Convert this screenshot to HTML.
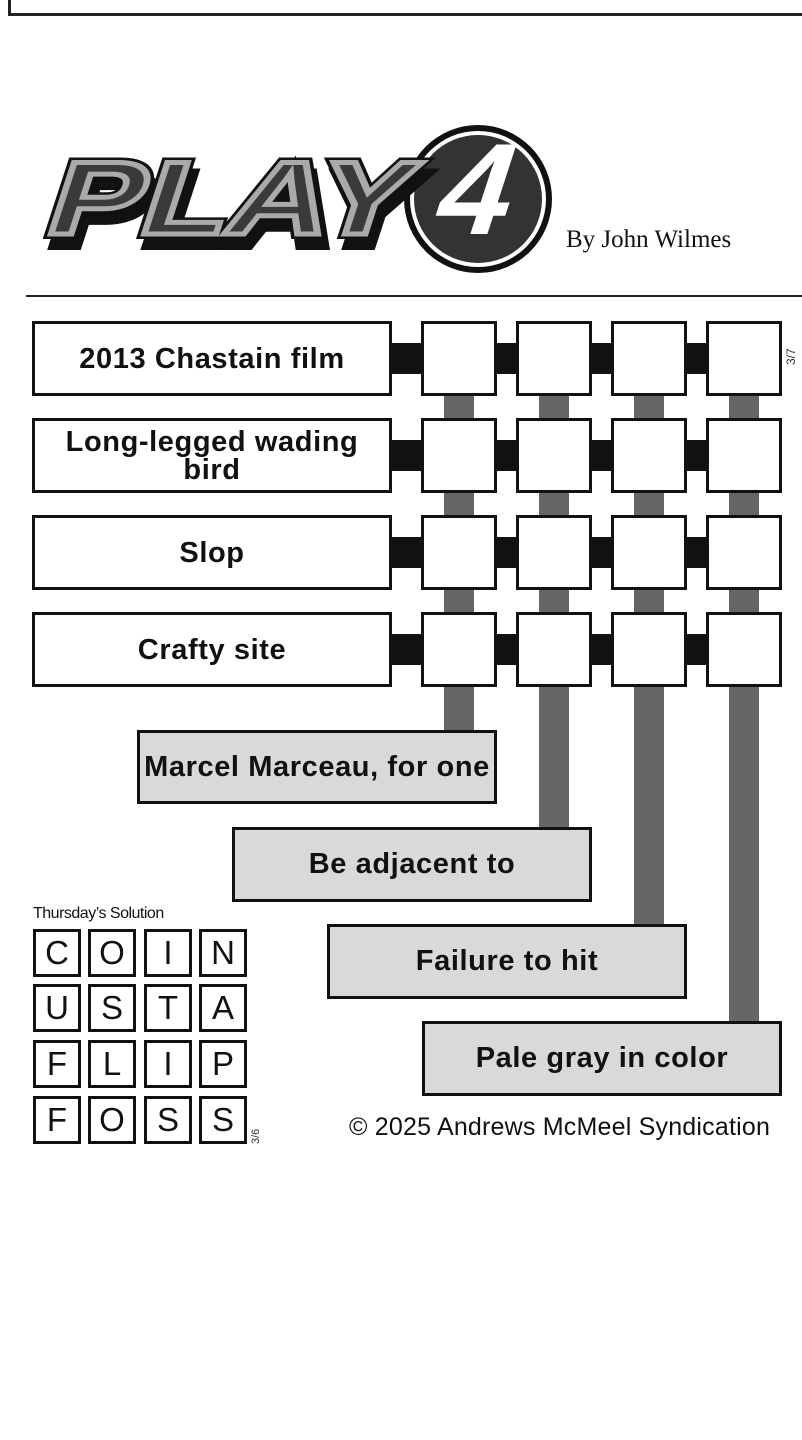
<!DOCTYPE html>
<html><head><meta charset="utf-8"><style>
body{margin:0;width:802px;height:1440px;background:#fff;position:relative;overflow:hidden;font-family:"Liberation Sans",sans-serif}
.a{position:absolute;box-sizing:border-box}
.clue{border:3px solid #111;background:#fff;display:flex;align-items:center;justify-content:center;text-align:center;font-weight:bold;font-size:29px;line-height:28px;color:#111;letter-spacing:0.6px}
.ans{border:3px solid #111;background:#d9d9d9;display:flex;align-items:center;justify-content:center;font-weight:bold;font-size:29px;color:#111;letter-spacing:0.6px;white-space:nowrap}
.sq{border:3px solid #111;background:#fff}
.blk{background:#111}
.gr{background:#666}
.s{border:3px solid #111;background:#fff;display:flex;align-items:center;justify-content:center;font-size:33px;color:#111}
</style></head><body>
<div class="a" style="left:8px;top:-10px;width:810px;height:26px;border:3px solid #222"></div>
<svg class="a" style="left:0;top:110px" width="560" height="180">
 <circle cx="478" cy="89" r="74" fill="#111"/>
 <circle cx="478" cy="89" r="68" fill="#fff"/>
 <circle cx="478" cy="89" r="64" fill="#333"/>
 <g transform="skewX(-18)" font-family="Liberation Sans" font-weight="bold" font-size="104">
  <text x="90" y="135" fill="#111" stroke="#111" stroke-width="10" textLength="360" lengthAdjust="spacingAndGlyphs">PLAY</text>
  <text x="82" y="124" fill="#444" stroke="#111" stroke-width="10" textLength="360" lengthAdjust="spacingAndGlyphs">PLAY</text>
  <text x="82" y="124" fill="#3a3a3a" stroke="#aaa" stroke-width="5" textLength="360" lengthAdjust="spacingAndGlyphs">PLAY</text>
  <text x="468" y="124" fill="#fff" font-size="130">4</text>
 </g>
</svg>
<div class="a" style="left:566px;top:226px;font-family:'Liberation Serif',serif;font-size:25px;color:#111">By John Wilmes</div>
<div class="a" style="left:26px;top:295px;width:776px;height:2px;background:#222"></div>

<div class="a gr" style="left:444px;top:390px;width:30px;height:342px"></div>
<div class="a gr" style="left:539px;top:390px;width:30px;height:439px"></div>
<div class="a gr" style="left:634px;top:390px;width:30px;height:536px"></div>
<div class="a gr" style="left:729px;top:390px;width:30px;height:633px"></div>

<div id="rows"></div>
<script>
var clues=["2013 Chastain film","Long-legged wading<br>bird","Slop","Crafty site"];
var h="";
for(var r=0;r<4;r++){var y=321+97*r;
h+='<div class="a clue" style="left:32px;top:'+y+'px;width:360px;height:75px">'+clues[r]+'</div>';
var xs=[421,516,611,706],bx=[391,495,590,685];
for(var i=0;i<4;i++){h+='<div class="a blk" style="left:'+bx[i]+'px;top:'+(y+22)+'px;width:'+(i==0?31:22)+'px;height:31px"></div>';}
for(var i=0;i<4;i++){h+='<div class="a sq" style="left:'+xs[i]+'px;top:'+y+'px;width:76px;height:75px"></div>';}
}
document.getElementById('rows').outerHTML=h;
</script>
<div class="a" style="left:784px;top:365px;font-size:12px;transform:rotate(-90deg);transform-origin:left top;color:#333">3/7</div>

<div class="a ans" style="left:137px;top:730px;width:360px;height:74px">Marcel Marceau, for one</div>
<div class="a ans" style="left:232px;top:827px;width:360px;height:75px">Be adjacent to</div>
<div class="a ans" style="left:327px;top:924px;width:360px;height:75px">Failure to hit</div>
<div class="a ans" style="left:422px;top:1021px;width:360px;height:75px">Pale gray in color</div>

<div class="a" style="left:33px;top:905px;font-size:16px;color:#111;letter-spacing:-0.5px">Thursday’s Solution</div>
<div id="sol"></div>
<script>
var L=["COIN","USTA","FLIP","FOSS"],xs=[33,88,144,199],ys=[929,984,1040,1096],h="";
for(var r=0;r<4;r++)for(var c=0;c<4;c++)h+='<div class="a s" style="left:'+xs[c]+'px;top:'+ys[r]+'px;width:48px;height:48px">'+L[r][c]+'</div>';
document.getElementById('sol').outerHTML=h;
</script>
<div class="a" style="left:250px;top:1144px;font-size:11px;transform:rotate(-90deg);transform-origin:left top;color:#333">3/6</div>
<div class="a" style="left:349px;top:1113px;font-size:25px;color:#111;letter-spacing:0.2px">© 2025 Andrews McMeel Syndication</div>
</body></html>
